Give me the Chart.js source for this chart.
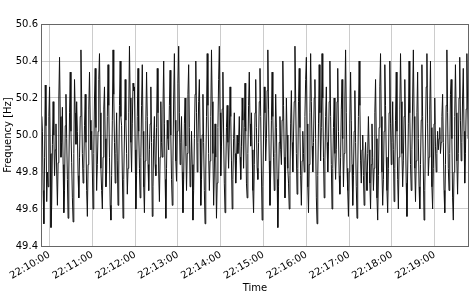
<!DOCTYPE html>
<html lang="en">
<head>
    <meta charset="UTF-8">
    <title>Frequency</title>
    <script src="https://cdn.jsdelivr.net/npm/chart.js"></script>
    <style>
        body { margin: 0; background: #fff; }
    </style>
</head>
<body>
    <canvas id="freqChart" width="474" height="296"></canvas>

    <script>
        // one sample per second, first sample 12 s before 22:10:00
        const startSec = -12;
        const stepSec = 1;

        const freq = [
            49.95, 50.10, 50.02, 49.70, 49.52, 49.88, 50.27, 50.05, 49.64, 49.80, 49.72, 50.10, 50.26, 49.90, 49.50, 49.62, 49.95, 50.18, 50.00, 49.78,
            49.92, 50.06, 49.80, 49.62, 49.85, 50.20, 50.42, 50.10, 49.88, 49.96, 50.15, 49.84, 49.58, 49.70, 50.05, 50.22, 49.98, 49.76, 49.55, 49.80,
            50.12, 50.34, 50.02, 49.85, 49.66, 49.53, 49.90, 50.30, 50.12, 49.95, 50.18, 50.02, 49.78, 49.66, 49.88, 50.10, 50.46, 50.20, 49.90, 49.74,
            49.82, 50.05, 50.22, 49.96, 49.70, 49.56, 49.84, 50.14, 50.34, 50.08, 49.92, 50.02, 49.80, 49.60, 49.90, 50.20, 50.36, 50.04, 49.70, 49.84,
            50.02, 50.30, 50.44, 50.12, 49.82, 49.70, 49.60, 49.88, 50.14, 50.26, 49.98, 49.72, 49.80, 50.10, 50.38, 50.16, 49.88, 49.62, 49.54, 49.78,
            50.08, 50.46, 50.22, 49.96, 49.74, 49.90, 50.12, 49.86, 49.62, 49.80, 50.16, 50.40, 50.10, 50.05, 49.80, 49.55, 49.76, 50.00, 50.30, 50.08,
            49.90, 49.68, 49.82, 50.12, 50.48, 50.20, 49.96, 49.80, 50.06, 50.28, 50.24, 50.26, 49.92, 49.60, 49.78, 50.10, 50.36, 50.02, 49.82, 49.66,
            49.88, 50.16, 50.38, 50.02, 49.72, 49.58, 49.86, 50.08, 50.34, 50.10, 49.84, 49.70, 49.92, 50.06, 50.26, 49.96, 49.56, 49.72, 49.98, 50.10,
            49.84, 49.78, 50.04, 50.36, 50.12, 49.80, 49.64, 49.88, 50.18, 49.96, 49.88, 50.14, 50.40, 50.06, 49.76, 49.55, 49.82, 50.08, 49.98, 49.92,
            50.16, 50.35, 50.00, 49.76, 49.62, 49.86, 50.20, 50.44, 50.08, 49.86, 49.75, 50.02, 50.28, 50.48, 50.12, 49.84, 49.96, 50.10, 49.80, 49.58,
            49.76, 50.06, 50.20, 49.94, 49.70, 49.90, 50.22, 50.38, 50.04, 49.72, 49.80, 50.02, 49.84, 49.54, 49.70, 49.98, 50.22, 50.40, 50.12, 49.80,
            49.96, 50.18, 50.30, 49.98, 49.62, 49.76, 50.00, 50.22, 49.96, 49.70, 49.52, 49.80, 50.10, 50.44, 50.16, 49.90, 49.70, 49.86, 50.10, 50.46,
            50.18, 49.90, 49.62, 49.80, 50.06, 49.88, 49.55, 49.74, 50.04, 50.30, 50.48, 50.12, 49.78, 49.94, 50.14, 50.34, 50.00, 49.74, 49.58, 49.80,
            50.04, 50.16, 49.96, 49.82, 50.00, 50.26, 50.10, 49.86, 49.60, 49.76, 49.98, 50.12, 49.90, 49.74, 49.86, 50.00, 49.90, 49.96, 50.10, 49.88,
            49.76, 49.94, 50.20, 50.08, 49.82, 50.04, 50.28, 50.02, 49.74, 49.66, 49.90, 50.16, 50.34, 50.06, 49.94, 50.12, 49.92, 49.70, 49.58, 49.84,
            50.12, 50.30, 50.04, 49.82, 49.76, 49.96, 50.18, 50.36, 50.10, 49.80, 49.54, 49.72, 50.00, 50.26, 50.12, 49.86, 49.98, 50.24, 50.46, 50.14,
            49.86, 49.62, 49.80, 50.08, 50.34, 50.10, 49.88, 49.70, 49.90, 50.22, 50.04, 49.76, 49.50, 49.72, 49.96, 50.10, 49.92, 49.84, 50.08, 50.40,
            50.16, 49.88, 49.66, 49.84, 50.20, 50.00, 49.82, 49.74, 49.60, 49.78, 50.06, 50.24, 49.96, 49.80, 50.00, 50.18, 50.48, 50.20, 49.90, 49.68,
            49.82, 50.18, 50.36, 50.04, 49.78, 49.62, 49.86, 50.02, 49.90, 49.80, 50.10, 50.30, 50.42, 50.06, 49.72, 49.58, 49.84, 50.12, 50.44, 50.18,
            49.94, 49.80, 49.96, 50.20, 50.30, 49.98, 49.66, 49.52, 49.78, 50.06, 50.38, 50.12, 49.86, 50.04, 50.44, 50.20, 49.88, 49.66, 49.86, 50.10,
            50.26, 49.96, 49.80, 49.94, 50.18, 50.40, 50.10, 49.84, 49.60, 49.82, 50.04, 50.20, 49.90, 49.76, 49.92, 50.18, 50.36, 50.02, 49.78, 49.68,
            49.88, 50.14, 50.30, 49.98, 49.72, 49.90, 50.20, 50.46, 50.12, 49.82, 49.70, 49.56, 49.80, 50.06, 50.34, 50.08, 49.84, 49.62, 49.78, 50.02,
            50.24, 49.96, 49.72, 49.55, 49.80, 50.10, 50.40, 50.16, 49.86, 49.74, 49.92, 50.00, 49.78, 49.62, 49.86, 49.96, 49.80, 49.70, 49.90, 50.10,
            49.92, 49.74, 49.60, 49.84, 50.06, 49.88, 49.70, 49.82, 50.12, 50.30, 49.98, 49.66, 49.54, 49.78, 50.04, 50.26, 50.44, 50.10, 49.80, 49.62,
            49.76, 50.02, 50.38, 50.16, 49.88, 49.70, 49.58, 49.82, 50.12, 50.40, 50.06, 49.84, 49.96, 50.18, 49.92, 49.64, 49.82, 50.08, 50.34, 50.02,
            49.76, 49.60, 49.88, 50.14, 50.44, 50.18, 49.90, 49.72, 49.86, 50.10, 50.30, 50.00, 49.74, 49.56, 49.80, 50.06, 50.40, 50.12, 49.84, 49.70,
            49.92, 50.20, 50.46, 50.10, 49.82, 49.64, 49.86, 50.12, 50.34, 49.98, 49.72, 49.60, 49.84, 50.08, 50.38, 50.10, 49.80, 49.54, 49.70, 50.00,
            50.26, 50.44, 50.06, 49.78, 49.88, 50.14, 50.40, 50.04, 49.72, 49.60, 49.82, 50.06, 50.20, 49.94, 49.80, 49.90, 50.02, 49.92, 49.98, 50.04,
            49.90, 49.96, 50.10, 50.22, 49.96, 49.70, 49.58, 49.84, 50.16, 50.46, 50.12, 49.82, 49.70, 49.90, 50.22, 50.30, 49.98, 49.66, 49.54, 49.80,
            50.10, 50.38, 50.12, 49.86, 49.68, 49.90, 50.20, 50.42, 50.08, 49.86, 49.96, 50.20, 50.36, 50.02, 49.74, 49.90, 50.14, 50.44, 50.20, 49.98,
            50.30
        ];

        // x ticks in seconds after 22:10:00
        const tickSeconds = [0, 60, 120, 180, 240, 300, 360, 420, 480, 540];
        const tickLabels = ['22:10:00', '22:11:00', '22:12:00', '22:13:00', '22:14:00',
                            '22:15:00', '22:16:00', '22:17:00', '22:18:00', '22:19:00'];
        const yTicks = [49.4, 49.6, 49.8, 50.0, 50.2, 50.4, 50.6];

        const points = freq.map((v, i) => ({ x: startSec + i * stepSec, y: v }));

        const font = { family: 'DejaVu Sans', size: 10 };

        // full box round the plot, like matplotlib
        const frame = {
            id: 'frame',
            afterDraw(chart) {
                const a = chart.chartArea;
                const ctx = chart.ctx;
                ctx.save();
                ctx.strokeStyle = '#666';
                ctx.lineWidth = 1;
                ctx.strokeRect(a.left + 0.5, a.top + 0.5, a.right - a.left - 1, a.bottom - a.top);
                ctx.restore();
            }
        };

        new Chart(document.getElementById('freqChart'), {
            type: 'line',
            data: {
                datasets: [{
                    data: points,
                    borderColor: '#111',
                    borderWidth: 1,
                    pointRadius: 0,
                    tension: 0,
                    fill: false
                }]
            },
            options: {
                responsive: false,
                animation: false,
                layout: { padding: { left: 0, top: 24, right: 5, bottom: 0 } },
                plugins: {
                    legend: { display: false },
                    tooltip: { enabled: false }
                },
                scales: {
                    x: {
                        type: 'linear',
                        min: startSec,
                        max: startSec + (freq.length - 1) * stepSec,
                        afterBuildTicks: scale => {
                            scale.ticks = tickSeconds.map(v => ({ value: v }));
                        },
                        afterFit: scale => { scale.height = 50; },
                        ticks: {
                            font: font,
                            color: '#000',
                            minRotation: 30,
                            maxRotation: 30,
                            padding: 3,
                            callback: (v) => tickLabels[tickSeconds.indexOf(v)]
                        },
                        grid: {
                            color: '#aaa',
                            lineWidth: 0.6,
                            borderDash: [1, 2],
                            drawTicks: false
                        },
                        border: { display: false },
                        title: {
                            display: true,
                            text: 'Time',
                            font: font,
                            color: '#000',
                            padding: { top: 0, bottom: 2 }
                        }
                    },
                    y: {
                        min: 49.4,
                        max: 50.6,
                        afterBuildTicks: scale => {
                            scale.ticks = yTicks.map(v => ({ value: v }));
                        },
                        afterFit: scale => { scale.width = 41; },
                        ticks: {
                            font: font,
                            color: '#000',
                            padding: 3,
                            callback: v => v.toFixed(1)
                        },
                        grid: {
                            color: '#aaa',
                            lineWidth: 0.6,
                            borderDash: [1, 2],
                            drawTicks: false
                        },
                        border: { display: false },
                        title: {
                            display: true,
                            text: 'Frequency [Hz]',
                            font: font,
                            color: '#000',
                            padding: { top: 2, bottom: 0 }
                        }
                    }
                }
            },
            plugins: [frame]
        });
    </script>
</body>
</html>
